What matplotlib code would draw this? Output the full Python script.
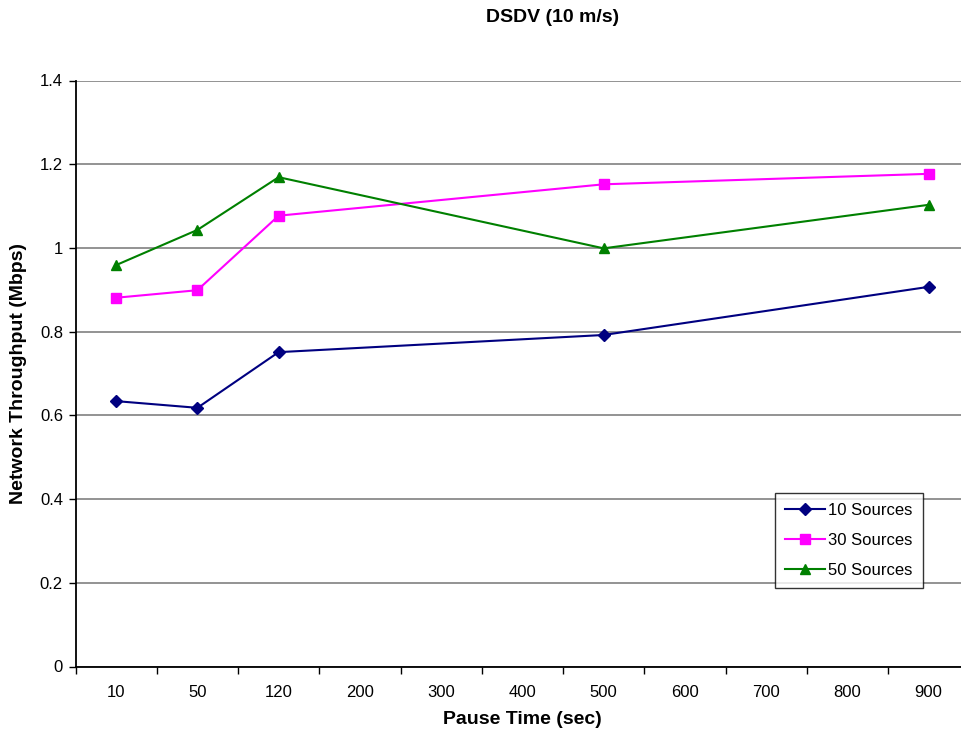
import matplotlib
matplotlib.use("Agg")
import matplotlib.pyplot as plt
import numpy as np

plt.rcParams["font.family"] = ["Liberation Sans", "DejaVu Sans"]

# ── Data ─────────────────────────────────────────────────────────────────────
categories = ["10", "50", "120", "200", "300", "400", "500", "600", "700", "800", "900"]
pause_times = ["10", "50", "120", "500", "900"]
src10 = [0.634, 0.618, 0.751, 0.792, 0.907]
src30 = [0.881, 0.899, 1.077, 1.152, 1.177]
src50 = [0.959, 1.043, 1.169, 0.999, 1.103]

series = [
    ("10 Sources", src10, "#000080", "D", 6),
    ("30 Sources", src30, "#FF00FF", "s", 7),
    ("50 Sources", src50, "#008000", "^", 7),
]

# ── Plot ─────────────────────────────────────────────────────────────────────
fig = plt.figure(figsize=(9.61, 7.33), dpi=100)
ax = fig.add_axes([75.5 / 961, 66.5 / 733, 893.75 / 961, 586 / 733])

x_pos = [categories.index(p) for p in pause_times]
for label, vals, color, marker, ms in series:
    ax.plot(x_pos, vals, color=color, marker=marker, markersize=ms,
            linewidth=1.5, label=label, clip_on=False)

ax.set_xlim(-0.5, len(categories) - 0.5)
ax.set_ylim(0, 1.4)
ax.set_yticks(np.arange(0, 1.41, 0.2))
ax.set_yticklabels(["0", "0.2", "0.4", "0.6", "0.8", "1", "1.2", "1.4"])
ax.set_xticks(range(len(categories)))
ax.set_xticklabels(categories)
ax.set_xticks(np.arange(-0.5, len(categories), 1.0), minor=True)
ax.tick_params(axis="x", which="major", length=0, pad=13, labelsize=12)
ax.tick_params(axis="x", which="minor", length=5, width=1, direction="out")
ax.tick_params(axis="y", length=5, width=1, labelsize=12, pad=4)
ax.yaxis.grid(True, color="#808080", linewidth=1.2)
ax.set_axisbelow(True)
for s in ["top", "right"]:
    ax.spines[s].set_visible(False)
for s in ["left", "bottom"]:
    ax.spines[s].set_linewidth(1.3)

fig.text(19 / 961, 1 - 373 / 733, "Network Throughput (Mbps)", ha="center", va="center",
         rotation=90, fontsize=14, fontweight="bold")
fig.text(522 / 961, 1 - 720 / 733, "Pause Time (sec)", ha="center", va="center",
         fontsize=14, fontweight="bold")
fig.text(553 / 961, 1 - 18 / 733, "DSDV (10 m/s)", ha="center", va="center",
         fontsize=14, fontweight="bold")

leg = ax.legend(loc="upper left", bbox_to_anchor=((775 - 75.5) / 893.75, (666.5 - 493) / 586),
                frameon=True, fancybox=False, edgecolor="black", fontsize=12,
                handlelength=2.4, borderpad=0.6, labelspacing=0.9, handletextpad=0.2,
                borderaxespad=0.0)
leg.get_frame().set_linewidth(1.0)

fig.savefig("out.png", dpi=100)
